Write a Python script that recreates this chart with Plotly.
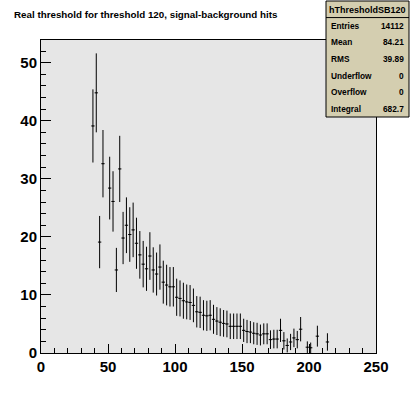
import plotly.graph_objects as go

# ---------------- data ----------------
bin_centers = [38.75, 41.25, 43.75, 46.25, 51.25, 53.75, 56.25, 58.75, 61.25, 63.75,
               66.25, 68.75, 71.25, 73.75, 76.25, 78.75, 81.25, 83.75, 86.25, 88.75,
               91.25, 93.75, 96.25, 98.75, 101.25, 103.75, 106.25, 108.75, 111.25, 113.75,
               116.25, 118.75, 121.25, 123.75, 126.25, 128.75, 131.25, 133.75, 136.25, 138.75,
               141.25, 143.75, 146.25, 148.75, 151.25, 153.75, 156.25, 158.75, 161.25, 163.75,
               166.25, 168.75, 171.25, 173.75, 176.25, 178.75, 181.25, 183.75, 186.25, 188.75,
               191.25, 193.75, 198.75, 201.25, 206.25, 213.75]
counts = [39.1, 44.8, 19.1, 32.6, 28.4, 26.1, 14.3, 31.7, 19.8, 22.0,
          20.4, 21.2, 18.9, 16.9, 15.3, 14.5, 16.7, 14.3, 13.6, 14.8,
          12.2, 11.7, 11.4, 11.4, 9.6, 9.4, 9.0, 8.8, 8.7, 8.2,
          7.1, 7.0, 6.5, 6.4, 6.5, 5.8, 5.5, 5.3, 5.1, 5.0,
          4.6, 4.6, 4.6, 4.6, 3.9, 3.7, 3.6, 3.4, 3.3, 3.1,
          3.3, 3.3, 2.3, 2.4, 2.4, 3.9, 2.1, 1.3, 1.9, 2.6,
          2.3, 4.1, 1.0, 0.9, 2.9, 1.9]
errors = [6.3, 6.8, 4.5, 5.8, 5.4, 5.2, 3.8, 5.7, 4.5, 4.8,
          4.7, 4.7, 4.4, 4.1, 4.0, 3.8, 4.1, 3.9, 3.7, 3.9,
          3.7, 3.5, 3.4, 3.4, 3.2, 3.1, 3.1, 3.0, 3.0, 2.9,
          2.7, 2.7, 2.6, 2.6, 2.6, 2.5, 2.4, 2.4, 2.3, 2.3,
          2.2, 2.2, 2.2, 2.2, 2.0, 2.0, 1.9, 1.9, 1.9, 1.8,
          1.8, 1.8, 1.6, 1.6, 1.6, 2.0, 1.5, 1.2, 1.4, 1.6,
          1.5, 2.1, 1.0, 0.9, 1.8, 1.5]
bin_width = 2.5

x_tick_values = [0, 50, 100, 150, 200, 250]
y_tick_values = [0, 10, 20, 30, 40, 50]

title_text = "Real threshold for threshold 120, signal-background hits"
hist_name = "hThresholdSB120"
stats_labels = ["Entries", "Mean", "RMS", "Underflow", "Overflow", "Integral"]
stats_values = ["14112", "84.21", "39.89", "0", "0", "682.7"]

# ---------------- layout geometry ----------------
W, H = 418, 393
ML, MR, MT, MB = 41, 42, 40, 40
PW, PH = W - ML - MR, H - MT - MB


def px2x(px):
    return (px - ML) / PW


def px2y(py):
    return (H - MB - py) / PH


FONT = "Liberation Sans, Arial, Helvetica, sans-serif"

fig = go.Figure(
    go.Scatter(
        x=bin_centers,
        y=counts,
        mode="markers",
        marker=dict(size=1, color="black"),
        error_y=dict(type="data", array=errors, color="black", thickness=1, width=0),
        error_x=dict(type="constant", value=bin_width / 2, color="black", thickness=1, width=0),
        hoverinfo="x+y",
    )
)

axis_common = dict(
    ticks="inside",
    tickcolor="black",
    tickwidth=1,
    showline=True,
    linecolor="black",
    linewidth=1,
    mirror=True,
    showgrid=False,
    zeroline=False,
    tickfont=dict(family=FONT, size=15, color="black", weight="bold"),
)

fig.update_xaxes(
    range=[0, 250],
    tickvals=x_tick_values,
    ticktext=[str(v) for v in x_tick_values],
    ticklen=9,
    minor=dict(ticks="inside", ticklen=5, dtick=10, tickcolor="black", showgrid=False),
    **axis_common,
)
fig.update_yaxes(
    range=[0, 53.9],
    tickvals=y_tick_values,
    ticktext=[str(v) for v in y_tick_values],
    ticklen=10,
    minor=dict(ticks="inside", ticklen=5, dtick=2, tickcolor="black", showgrid=False),
    **axis_common,
)

BOX_L, BOX_R, BOX_T, BOX_B = 326, 409, 1, 117
ROW_H = (BOX_B - BOX_T) / 7.0

shapes = [
    dict(type="rect", xref="paper", yref="paper",
         x0=px2x(BOX_L), x1=px2x(BOX_R), y0=px2y(BOX_B), y1=px2y(BOX_T),
         fillcolor="#d4ceb0", line=dict(color="black", width=1), layer="above"),
    dict(type="line", xref="paper", yref="paper",
         x0=px2x(BOX_L), x1=px2x(BOX_R), y0=px2y(BOX_T + ROW_H), y1=px2y(BOX_T + ROW_H),
         line=dict(color="black", width=1), layer="above"),
]

annotations = [
    dict(text=title_text, xref="paper", yref="paper", x=px2x(12), y=px2y(14),
         xanchor="left", yanchor="middle", showarrow=False,
         font=dict(family=FONT, size=9.8, color="black", weight="bold")),
    dict(text=hist_name, xref="paper", yref="paper", x=px2x((BOX_L + BOX_R) / 2),
         y=px2y(BOX_T + ROW_H / 2 + 0.5),
         xanchor="center", yanchor="middle", showarrow=False,
         font=dict(family=FONT, size=9, color="black", weight="bold")),
]
for i, (lab, val) in enumerate(zip(stats_labels, stats_values)):
    yy = BOX_T + ROW_H * (i + 1.5)
    annotations.append(dict(text=lab, xref="paper", yref="paper", x=px2x(BOX_L + 3), y=px2y(yy),
                            xanchor="left", yanchor="middle", showarrow=False,
                            font=dict(family=FONT, size=8.3, color="black", weight="bold")))
    annotations.append(dict(text=val, xref="paper", yref="paper", x=px2x(BOX_R - 3), y=px2y(yy),
                            xanchor="right", yanchor="middle", showarrow=False,
                            font=dict(family=FONT, size=8.3, color="black", weight="bold")))

fig.update_layout(
    width=W, height=H,
    margin=dict(l=ML, r=MR, t=MT, b=MB, pad=0),
    paper_bgcolor="white",
    plot_bgcolor="#e6e6e6",
    showlegend=False,
    shapes=shapes,
    annotations=annotations,
    font=dict(family=FONT, color="black"),
)

fig.write_html(
    "out.html",
    config={"displayModeBar": False},
    post_script="document.body.style.margin='0';document.body.style.overflow='hidden';",
)
